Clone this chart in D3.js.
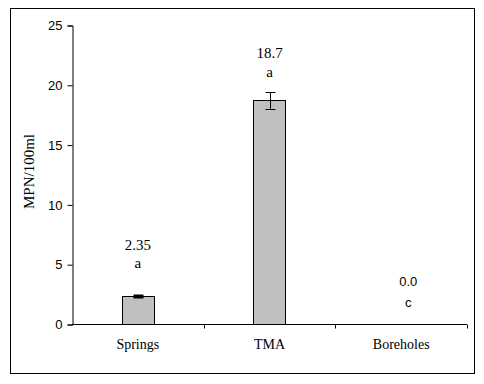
<!DOCTYPE html>
<html>
<head>
<meta charset="utf-8">
<script src="https://cdn.jsdelivr.net/npm/d3@7"></script>
<style>
  body { margin: 0; background: #fff; }
  svg { display: block; }
</style>
</head>
<body>
<div id="chart"></div>
<script>
// data
const categories = ['Springs', 'TMA', 'Boreholes'];
const meanValues = [2.35, 18.7, 0.0];
const errorValues = [0.08, 0.7, 0];
const valueLabels = ['2.35', '18.7', '0.0'];
const groupLetters = ['a', 'a', 'c'];
const yTicks = [0, 5, 10, 15, 20, 25];

const width = 484, height = 384;
const margin = { top: 25, right: 17, bottom: 60, left: 72 };
const serif = 'Liberation Serif, Times New Roman, serif';
const sans = 'Liberation Sans, Arial, sans-serif';

const svg = d3.select('#chart')
    .append('svg')
    .attr('width', width)
    .attr('height', height);

// outer frame
svg.append('rect')
    .attr('x', 10.5).attr('y', 8.5)
    .attr('width', 464).attr('height', 365)
    .attr('fill', 'none')
    .attr('stroke', '#000')
    .attr('stroke-width', 1);

const x = d3.scaleBand()
    .domain(categories)
    .range([margin.left, width - margin.right])
    .paddingInner(0.757)
    .paddingOuter(0.378);

const y = d3.scaleLinear()
    .domain([0, 25])
    .range([height - margin.bottom, margin.top]);

const bandStep = x.step();
const bandStart = margin.left;

// y axis
const yAxis = svg.append('g')
    .attr('transform', `translate(${margin.left + 0.5},0.5)`)
    .call(d3.axisLeft(y).tickValues(yTicks).tickSize(5).tickPadding(5).tickFormat(d3.format('d')));
yAxis.selectAll('text')
    .attr('font-family', sans)
    .attr('font-size', 13)
    .attr('fill', '#000');
yAxis.select('.domain').attr('stroke', '#000');

// x axis line with ticks at category boundaries
const xAxisG = svg.append('g').attr('transform', `translate(0,${y(0) + 0.5})`);
xAxisG.append('line')
    .attr('x1', margin.left).attr('x2', width - margin.right)
    .attr('stroke', '#000');
const boundaries = d3.range(categories.length + 1).map(i => bandStart + i * bandStep);
xAxisG.selectAll('.xtick')
    .data(boundaries.slice(1))
    .join('line')
    .attr('class', 'xtick')
    .attr('x1', d => Math.round(d) + 0.5).attr('x2', d => Math.round(d) + 0.5)
    .attr('y1', 0).attr('y2', 4)
    .attr('stroke', '#000');

xAxisG.selectAll('.xlabel')
    .data(categories)
    .join('text')
    .attr('class', 'xlabel')
    .attr('x', d => x(d) + x.bandwidth() / 2)
    .attr('y', 24)
    .attr('text-anchor', 'middle')
    .attr('font-family', serif)
    .attr('font-size', 14)
    .text(d => d);

// y axis title
svg.append('text')
    .attr('transform', `translate(34,${(y(0) + y(25)) / 2 - 3}) rotate(-90)`)
    .attr('text-anchor', 'middle')
    .attr('font-family', serif)
    .attr('font-size', 15)
    .text('MPN/100ml');

const rows = categories.map((c, i) => ({
    cat: c, value: meanValues[i], err: errorValues[i],
    label: valueLabels[i], letter: groupLetters[i]
}));

// bars
svg.selectAll('.bar')
    .data(rows.filter(d => d.value > 0))
    .join('rect')
    .attr('class', 'bar')
    .attr('x', d => Math.round(x(d.cat)) + 0.5)
    .attr('y', d => Math.round(y(d.value)) + 0.5)
    .attr('width', Math.round(x.bandwidth()))
    .attr('height', d => Math.round(y(0)) - Math.round(y(d.value)))
    .attr('fill', '#c0c0c0')
    .attr('stroke', '#000')
    .attr('stroke-width', 1);

// error bars
const err = svg.selectAll('.err')
    .data(rows.filter(d => d.err > 0))
    .join('g')
    .attr('class', 'err')
    .attr('transform', d => `translate(${Math.round(x(d.cat) + x.bandwidth() / 2) + 0.5},0)`);
err.append('line')
    .attr('y1', d => y(d.value + d.err)).attr('y2', d => y(d.value - d.err))
    .attr('stroke', '#000');
err.append('line')
    .attr('x1', -5).attr('x2', 5)
    .attr('y1', d => Math.round(y(d.value + d.err)) + 0.5).attr('y2', d => Math.round(y(d.value + d.err)) + 0.5)
    .attr('stroke', '#000').attr('stroke-width', d => d.err < 0.2 ? 2 : 1);
err.append('line')
    .attr('x1', -5).attr('x2', 5)
    .attr('y1', d => Math.round(y(d.value - d.err)) + 0.5).attr('y2', d => Math.round(y(d.value - d.err)) + 0.5)
    .attr('stroke', '#000').attr('stroke-width', d => d.err < 0.2 ? 2 : 1);

// value and letter labels (baseline offsets in px above the bar top)
const labelOffsets = { Springs: [-46, -28], TMA: [-42, -23], Boreholes: [-38, -17] };
const lab = svg.selectAll('.lab')
    .data(rows)
    .join('g')
    .attr('class', 'lab')
    .attr('transform', d => `translate(${x(d.cat) + x.bandwidth() / 2 + (d.cat === 'Boreholes' ? 7 : 0)},${y(d.value)})`)
    .attr('font-family', d => d.cat === 'Boreholes' ? sans : serif)
    .attr('font-size', d => d.cat === 'Boreholes' ? 13 : 15)
    .attr('text-anchor', 'middle');
lab.append('text')
    .attr('y', d => labelOffsets[d.cat][0])
    .text(d => d.label);
lab.append('text')
    .attr('y', d => labelOffsets[d.cat][1])
    .text(d => d.letter);
</script>
</body>
</html>
